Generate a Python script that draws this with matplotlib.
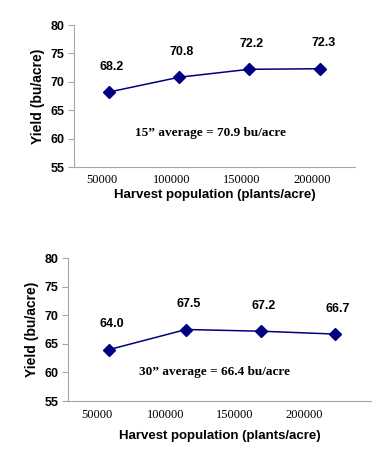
import matplotlib
matplotlib.use("Agg")
import matplotlib.pyplot as plt

# --- data ---
pop_15 = [55000, 105000, 155000, 206000]
yield_15 = [68.2, 70.8, 72.2, 72.3]
avg_15 = "15\u201d average = 70.9 bu/acre"

pop_30 = [59000, 114500, 169000, 222500]
yield_30 = [64.0, 67.5, 67.2, 66.7]
avg_30 = "30\u201d average = 66.4 bu/acre"

xticks = [50000, 100000, 150000, 200000]
yticks = [55, 60, 65, 70, 75, 80]

navy = '#000080'
grey = '#a6a6a6'
W, H = 382, 451

fig = plt.figure(figsize=(W / 100, H / 100), dpi=100)


def panel(rect, x, y, avg_txt, avg_xy, xlim, tick_pad, label_pad):
    ax = fig.add_axes(rect)
    ax.plot(x, y, color=navy, lw=1.1, marker='D', ms=6.5, mec=navy, mfc=navy)
    for xi, yi in zip(x, y):
        ax.annotate(f'{yi:.1f}', (xi, yi), xytext=(2, 14), textcoords='offset points',
                    ha='center', va='bottom', fontsize=9, fontweight='bold',
                    family='Liberation Sans')
    ax.text(avg_xy[0], avg_xy[1], avg_txt, ha='center', va='center', fontsize=9.5,
            fontweight='bold', family='Liberation Serif', transform=ax.transAxes)
    ax.set_ylim(55, 80)
    ax.set_xlim(*xlim)
    ax.set_yticks(yticks)
    ax.set_xticks(xticks)
    ax.set_xticklabels([str(t) for t in xticks], family='Liberation Serif', fontsize=9)
    for lab in ax.get_yticklabels():
        lab.set_fontweight('bold')
        lab.set_family('Liberation Sans')
        lab.set_fontsize(9)
    ax.tick_params(axis='x', length=0, pad=tick_pad)
    ax.tick_params(axis='y', length=4, color=grey, pad=3)
    for s in ['top', 'right']:
        ax.spines[s].set_visible(False)
    for s in ['left', 'bottom']:
        ax.spines[s].set_color(grey)
        ax.spines[s].set_linewidth(0.8)
    ax.set_ylabel('Yield (bu/acre)', fontsize=10, fontweight='bold',
                  family='Liberation Sans', labelpad=4)
    ax.set_xlabel('Harvest population (plants/acre)', fontsize=9.5, fontweight='bold',
                  family='Liberation Sans', labelpad=label_pad)
    return ax


panel([74 / W, 1 - 167 / H, 281 / W, 142 / H], pop_15, yield_15, avg_15,
      (0.485, 0.24), (30000, 230700), 5, 2)
panel([68 / W, 1 - 401 / H, 303 / W, 143 / H], pop_30, yield_30, avg_30,
      (0.485, 0.2), (29000, 248500), 6, 6)

fig.savefig('out.png', dpi=100)
